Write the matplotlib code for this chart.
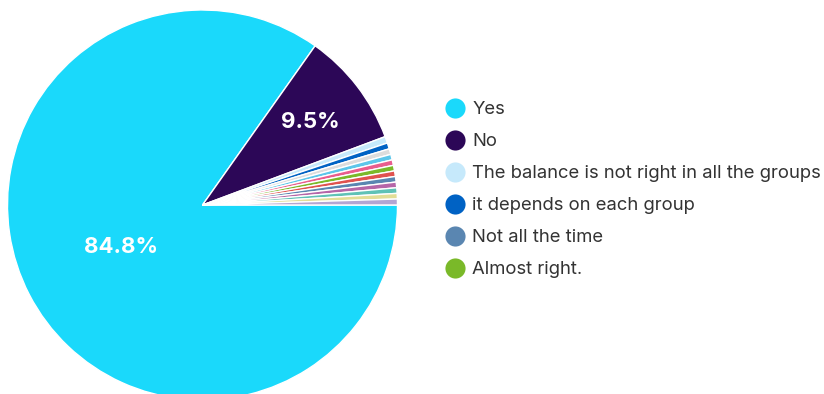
import numpy as np
import matplotlib
matplotlib.use("Agg")
import matplotlib.pyplot as plt
from matplotlib.lines import Line2D

plt.rcParams['font.family'] = ['Inter', 'DejaVu Sans']

# answers, in drawing order (clockwise from 3 o'clock)
labels = ["Yes", "No", "The balance is not right in all the groups", "it depends on each group",
          "Other 1", "Other 2", "Other 3", "Almost right.", "Other 4", "Not all the time",
          "Other 5", "Other 6", "Other 7", "Other 8"]
values = [84.8, 9.5, 0.55, 0.5, 0.47, 0.46, 0.46, 0.46, 0.46, 0.46, 0.47, 0.46, 0.46, 0.49]
colors = ["#1ad9fb", "#2c0757", "#c6e9fb", "#0062c4", "#dcdcdc", "#5cc6ea", "#e95d8e",
          "#7ab929", "#e0524f", "#5a86b1", "#b566a8", "#5fc2b6", "#e2de96", "#b3a5d3"]
shown = ["Yes", "No", "The balance is not right in all the groups", "it depends on each group",
         "Not all the time", "Almost right."]
pct_labels = {"Yes": "84.8%", "No": "9.5%"}
label_dist = {"Yes": 0.47, "No": 0.70}

fig = plt.figure(figsize=(8.24, 3.94), dpi=100)
W, H = 824, 394
cx, cy, r = 202.5, 205, 195
ax = fig.add_axes([(cx - r) / W, (H - cy - r) / H, 2 * r / W, 2 * r / H])

wedges, _ = ax.pie(values, colors=colors, startangle=0, counterclock=False,
                   wedgeprops=dict(edgecolor='white', linewidth=1.0))
for w in wedges:
    w.set_clip_on(False)
ax.set_xlim(-1, 1)
ax.set_ylim(-1, 1)
ax.set_aspect('auto')
ax.axis('off')

for w, lab in zip(wedges, labels):
    if lab in pct_labels:
        mid = np.deg2rad((w.theta1 + w.theta2) / 2)
        d = label_dist[lab]
        ax.text(d * np.cos(mid), d * np.sin(mid), pct_labels[lab], color='white',
                fontsize=16, fontweight='bold', ha='center', va='center')

handles = [Line2D([0], [0], marker='o', linestyle='', markersize=14.5,
                  markerfacecolor=colors[labels.index(s)], markeredgecolor='none', label=s)
           for s in shown]
leg = fig.legend(handles=handles, loc='upper left', bbox_to_anchor=(438 / W, 1 - 94 / H),
                 frameon=False, fontsize=13.3, handlelength=1.0, handletextpad=0.45,
                 labelspacing=0.81, borderaxespad=0)
for t in leg.get_texts():
    t.set_color('#333333')

fig.savefig("out.png", dpi=100)
